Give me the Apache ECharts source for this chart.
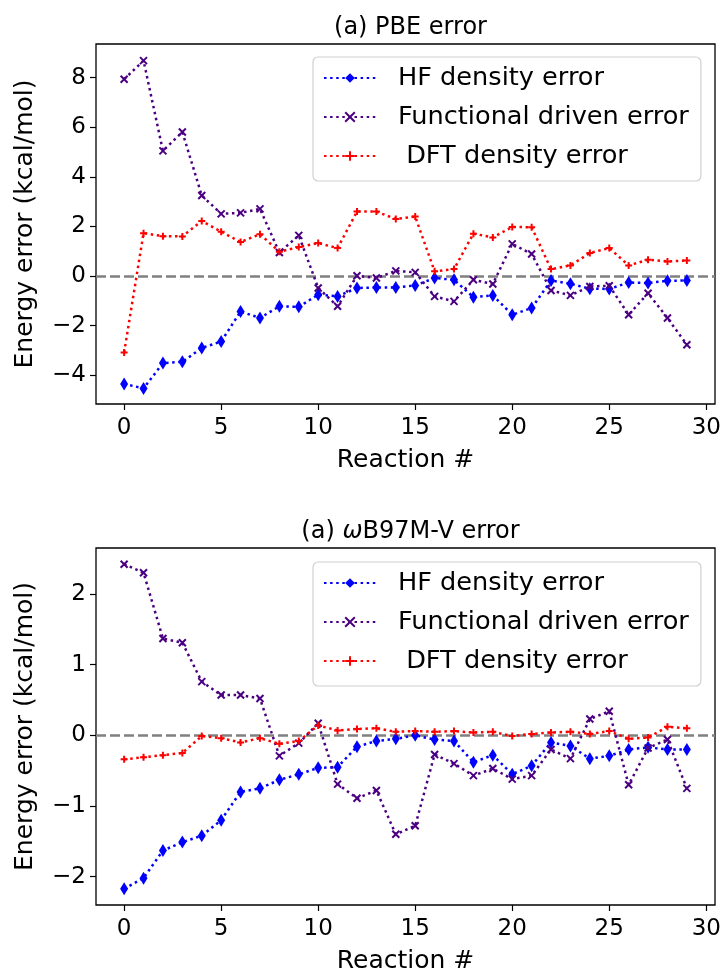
<!DOCTYPE html>
<html>
<head>
<meta charset="utf-8">
<script src="https://cdn.jsdelivr.net/npm/echarts@6/dist/echarts.min.js"></script>
<style>
html,body{margin:0;padding:0;background:#fff;}
#c{width:725px;height:975px;}
</style>
</head>
<body>
<div id="c"></div>
<script>
const reactions = [0,1,2,3,4,5,6,7,8,9,10,11,12,13,14,15,16,17,18,19,20,21,22,23,24,25,26,27,28,29];

const pbeHF   = [-4.35,-4.53,-3.51,-3.46,-2.90,-2.64,-1.43,-1.69,-1.22,-1.24,-0.75,-0.82,-0.48,-0.46,-0.46,-0.38,-0.08,-0.15,-0.85,-0.78,-1.56,-1.29,-0.18,-0.31,-0.51,-0.52,-0.26,-0.28,-0.19,-0.18];
const pbeFunc = [7.94,8.69,5.05,5.81,3.25,2.51,2.55,2.71,0.95,1.64,-0.48,-1.22,0.01,-0.08,0.21,0.15,-0.82,-1.02,-0.15,-0.32,1.30,0.89,-0.58,-0.78,-0.42,-0.39,-1.56,-0.69,-1.69,-2.77];
const pbeDFT  = [-3.08,1.73,1.61,1.60,2.22,1.79,1.37,1.69,0.98,1.17,1.33,1.13,2.60,2.60,2.30,2.40,0.19,0.28,1.71,1.56,1.98,1.97,0.28,0.43,0.93,1.13,0.43,0.66,0.59,0.63];

const wbHF    = [-2.17,-2.02,-1.63,-1.51,-1.42,-1.20,-0.80,-0.75,-0.63,-0.55,-0.46,-0.45,-0.16,-0.08,-0.05,0.00,-0.06,-0.08,-0.38,-0.28,-0.55,-0.43,-0.10,-0.15,-0.33,-0.29,-0.20,-0.17,-0.20,-0.20];
const wbFunc  = [2.42,2.30,1.37,1.31,0.76,0.57,0.57,0.52,-0.29,-0.11,0.17,-0.69,-0.89,-0.78,-1.40,-1.28,-0.27,-0.40,-0.57,-0.47,-0.62,-0.57,-0.20,-0.33,0.23,0.34,-0.70,-0.18,-0.06,-0.75];
const wbDFT   = [-0.34,-0.31,-0.28,-0.25,-0.01,-0.04,-0.10,-0.04,-0.12,-0.08,0.14,0.07,0.09,0.10,0.05,0.06,0.05,0.06,0.04,0.05,-0.01,0.02,0.04,0.05,0.02,0.06,-0.05,-0.03,0.12,0.10];

const xTicks = [0,5,10,15,20,25,30];
const pbeYTicks = [-4,-2,0,2,4,6,8];
const wbYTicks = [-2,-1,0,1,2];

const seriesNames = ['HF density error','Functional driven error',' DFT density error'];
const titles = ['(a) PBE error','(a) {i|ω}B97M-V error'];

const FONT = 'DejaVu Sans';
const chart = echarts.init(document.getElementById('c'), null, {renderer:'canvas'});

function pairs(vals){ return reactions.map((r,i)=>[r, vals[i]]); }
const fmt = v => String(v).replace('-', '\u2212');

const grids = [
  {left:96, top:44, width:619, height:360, show:true, borderColor:'#000', borderWidth:1.3, backgroundColor:'transparent'},
  {left:96, top:548, width:619, height:359, show:true, borderColor:'#000', borderWidth:1.3, backgroundColor:'transparent'}
];

function xAxis(idx){
  return {
    type:'value', gridIndex:idx, min:-1.45, max:30.45,
    name:'Reaction #', nameLocation:'middle', nameGap:44,
    nameTextStyle:{fontFamily:FONT, fontSize:25, color:'#000'},
    axisLine:{show:false, onZero:false},
    axisTick:{show:true, inside:false, length:6, lineStyle:{color:'#000', width:1.2}, customValues:xTicks},
    axisLabel:{fontFamily:FONT, fontSize:23, color:'#000', margin:13, customValues:xTicks, formatter:fmt},
    splitLine:{show:false}
  };
}
function yAxis(idx, mn, mx, ticks){
  return {
    type:'value', gridIndex:idx, min:mn, max:mx,
    name:'Energy error (kcal/mol)', nameLocation:'middle', nameGap:58,
    nameTextStyle:{fontFamily:FONT, fontSize:25, color:'#000'},
    axisLine:{show:false, onZero:false},
    axisTick:{show:true, inside:false, length:6, lineStyle:{color:'#000', width:1.2}, customValues:ticks},
    axisLabel:{fontFamily:FONT, fontSize:23, color:'#000', margin:10, customValues:ticks, formatter:fmt},
    splitLine:{show:false}
  };
}

const colors = ['#0000ff','#4b0082','#ff0000'];
const symbols = ['diamond','path://M0,0L10,10M10,0L0,10','path://M5,0L5,10M0,5L10,5'];
const symbolSizes = [[8,13],7,7];

function mkSeries(gi, datasets){
  return datasets.map((d,k)=>{
    const s = {
      type:'line', name:seriesNames[k], xAxisIndex:gi, yAxisIndex:gi,
      data:pairs(d), showAllSymbol:true,
      symbol:symbols[k], symbolSize:symbolSizes[k],
      lineStyle:{color:colors[k], width:2.5, type:[2.5,3.6], cap:'butt'},
      itemStyle:{color:colors[k], borderColor:colors[k], borderWidth:k===0?0:2},
      z:3+k, animation:false, emphasis:{disabled:true}
    };
    if(k===0){
      s.markLine = {silent:true, symbol:'none', animation:false, z:2,
        label:{show:false},
        lineStyle:{color:'#808080', type:[10,4], width:2.6},
        data:[{yAxis:0}]};
    }
    return s;
  });
}

function legend(top){
  return {
    data:seriesNames, orient:'vertical', left:313, top:top,
    itemWidth:52, itemHeight:12, itemGap:13,
    padding:[8,12,12,10],
    backgroundColor:'rgba(255,255,255,0.8)', borderColor:'#d0d0d0', borderWidth:1.2, borderRadius:5,
    textStyle:{fontFamily:FONT, fontSize:25.6, color:'#000', padding:[0,0,0,17]},
    selectedMode:false
  };
}

const option = {
  backgroundColor:'#fff',
  animation:false,
  title:[
    {text:titles[0], left:405.5, textAlign:'center', top:11,
     textStyle:{fontFamily:FONT, fontSize:24, fontWeight:'normal', color:'#000'}},
    {text:titles[1], left:405.5, textAlign:'center', top:515,
     textStyle:{fontFamily:FONT, fontSize:24, fontWeight:'normal', color:'#000',
       rich:{i:{fontFamily:FONT, fontSize:24, fontStyle:'italic', color:'#000'}}}}
  ],
  grid:grids,
  xAxis:[xAxis(0), xAxis(1)],
  yAxis:[yAxis(0,-5.16,9.36,pbeYTicks), yAxis(1,-2.40,2.65,wbYTicks)],
  legend:[legend(57), legend(562)],
  series:[...mkSeries(0,[pbeHF,pbeFunc,pbeDFT]), ...mkSeries(1,[wbHF,wbFunc,wbDFT])]
};
chart.setOption(option);
</script>
</body>
</html>
